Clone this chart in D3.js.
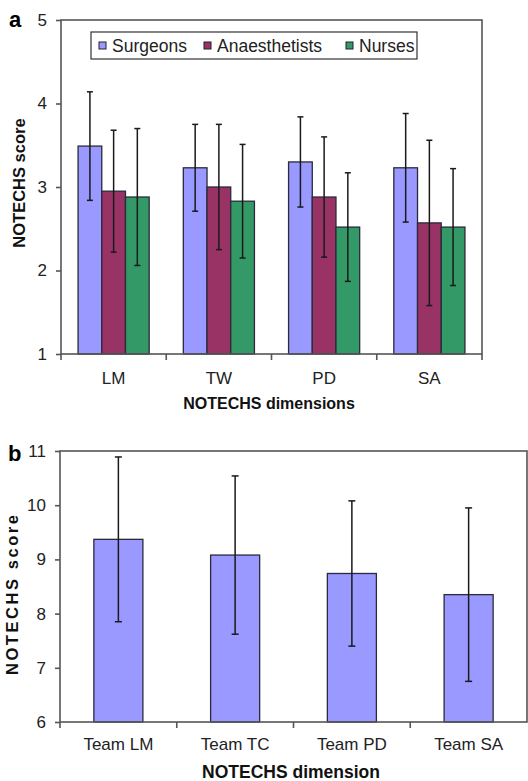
<!DOCTYPE html>
<html>
<head>
<meta charset="utf-8">
<script src="https://cdn.jsdelivr.net/npm/d3@7"></script>
<style>
  body{ margin: 0; background: #fff; }
  text{ font-family: "Liberation Sans", Arial, sans-serif; }
</style>
</head>
<body>
<svg id="chart" width="528" height="781"></svg>
<script>
// panel a
var dimensions = [ "LM", "TW", "PD", "SA" ];
var groups = [ "Surgeons", "Anaesthetists", "Nurses" ];
var group_colors = [ "#9999ff", "#993366", "#339966" ];
var surgeons_mean = [ 3.49, 3.23, 3.30, 3.23 ];
var surgeons_err = [ 0.65, 0.52, 0.54, 0.65 ];
var anaesthetists_mean = [ 2.95, 3.00, 2.88, 2.57 ];
var anaesthetists_err = [ 0.73, 0.75, 0.72, 0.99 ];
var nurses_mean = [ 2.88, 2.83, 2.52, 2.52 ];
var nurses_err = [ 0.82, 0.68, 0.65, 0.70 ];
var ticks_a = [ 1, 2, 3, 4, 5 ];

// panel b
var team_dimensions = [ "Team LM", "Team TC", "Team PD", "Team SA" ];
var team_mean = [ 9.37, 9.08, 8.74, 8.35 ];
var team_err = [ 1.52, 1.46, 1.34, 1.60 ];
var ticks_b = [ 6, 7, 8, 9, 10, 11 ];

var svg = d3.select( "#chart" );

var AXIS_COLOR = "#555";
var TEXT_COLOR = "#222";

function drawFrame( g, x0, x1, y, ticks ){
  var y_top = y.range()[ 1 ];
  var y_bot = y.range()[ 0 ];

  g.append( "rect" )
    .attr( "x", x0 )
    .attr( "y", y_top )
    .attr( "width", x1 - x0 )
    .attr( "height", y_bot - y_top )
    .style( "fill", "none" )
    .style( "stroke", AXIS_COLOR )
    .style( "stroke-width", "1.6px" );

  var y_axis = d3.axisLeft( y ).tickValues( ticks ).tickSize( 5 ).tickPadding( 9 ).tickFormat( d3.format( "d" ) );
  var ya = g.append( "g" ).attr( "transform", "translate(" + x0 + ",0)" ).call( y_axis );
  ya.select( ".domain" ).remove();
  ya.selectAll( "line" ).style( "stroke", AXIS_COLOR ).style( "stroke-width", "1.6px" );
  ya.selectAll( "text" )
    .style( "font-family", "\"Liberation Sans\", Arial, sans-serif" )
    .style( "font-size", "17px" )
    .style( "fill", TEXT_COLOR );

  return ya;
}

function drawErrors( g, data, xf, y, cap ){
  var eg = g.append( "g" )
    .selectAll( "g" )
    .data( data )
    .enter()
    .append( "g" );

  eg.append( "line" )
    .attr( "x1", xf ).attr( "x2", xf )
    .attr( "y1", function( d ){ return y( d.mean + d.err ); } )
    .attr( "y2", function( d ){ return y( d.mean - d.err ); } );
  eg.append( "line" )
    .attr( "x1", function( d ){ return xf( d ) - cap; } )
    .attr( "x2", function( d ){ return xf( d ) + cap; } )
    .attr( "y1", function( d ){ return y( d.mean + d.err ); } )
    .attr( "y2", function( d ){ return y( d.mean + d.err ); } );
  eg.append( "line" )
    .attr( "x1", function( d ){ return xf( d ) - cap; } )
    .attr( "x2", function( d ){ return xf( d ) + cap; } )
    .attr( "y1", function( d ){ return y( d.mean - d.err ); } )
    .attr( "y2", function( d ){ return y( d.mean - d.err ); } );
  eg.selectAll( "line" )
    .style( "stroke", "#1a1a1a" )
    .style( "stroke-width", "1.5px" );
}

// ---------- panel a ----------
var a_left = 61, a_right = 482, a_top = 20, a_bottom = 354;

var xa = d3.scaleBand()
  .domain( dimensions )
  .range( [ a_left, a_right ] )
  .paddingInner( 0 )
  .paddingOuter( 0 );

var xa_inner = d3.scaleBand()
  .domain( groups )
  .range( [ 0, xa.bandwidth() ] )
  .paddingOuter( 0.72 )
  .paddingInner( 0 );

var ya = d3.scaleLinear().domain( [ 1, 5 ] ).range( [ a_bottom, a_top ] );

var ga = svg.append( "g" );

var means_a = [ surgeons_mean, anaesthetists_mean, nurses_mean ];
var errs_a = [ surgeons_err, anaesthetists_err, nurses_err ];

var bars_a = [];
groups.forEach( function( grp, gi ){
  dimensions.forEach( function( dim, di ){
    bars_a.push( { dim: dim, grp: grp, gi: gi, mean: means_a[ gi ][ di ], err: errs_a[ gi ][ di ] } );
  } );
} );

ga.selectAll( ".bar-a" )
  .data( bars_a )
  .enter()
  .append( "rect" )
  .classed( "bar-a", true )
  .attr( "x", function( d ){ return xa( d.dim ) + xa_inner( d.grp ); } )
  .attr( "y", function( d ){ return ya( d.mean ); } )
  .attr( "width", xa_inner.bandwidth() )
  .attr( "height", function( d ){ return ya( 1 ) - ya( d.mean ); } )
  .style( "fill", function( d ){ return group_colors[ d.gi ]; } )
  .style( "stroke", "#2a2a3a" )
  .style( "stroke-width", "1.3px" );

drawErrors( ga, bars_a, function( d ){ return xa( d.dim ) + xa_inner( d.grp ) + xa_inner.bandwidth() / 2; }, ya, 3 );

drawFrame( ga, a_left, a_right, ya, ticks_a );

// category ticks and labels
ga.selectAll( ".xtick-a" )
  .data( dimensions.concat( [ "end" ] ) )
  .enter()
  .append( "line" )
  .attr( "x1", function( d, i ){ return a_left + xa.bandwidth() * i; } )
  .attr( "x2", function( d, i ){ return a_left + xa.bandwidth() * i; } )
  .attr( "y1", a_bottom )
  .attr( "y2", a_bottom + 6 )
  .style( "stroke", AXIS_COLOR )
  .style( "stroke-width", "1.6px" );

ga.selectAll( ".xlab-a" )
  .data( dimensions )
  .enter()
  .append( "text" )
  .attr( "x", function( d ){ return xa( d ) + xa.bandwidth() / 2; } )
  .attr( "y", 384 )
  .attr( "text-anchor", "middle" )
  .style( "font-size", "17px" )
  .style( "fill", TEXT_COLOR )
  .text( function( d ){ return d; } );

ga.append( "text" )
  .attr( "x", 269 )
  .attr( "y", 409 )
  .attr( "text-anchor", "middle" )
  .style( "font-size", "16px" )
  .style( "font-weight", "bold" )
  .style( "fill", "#111" )
  .text( "NOTECHS dimensions" );

ga.append( "text" )
  .attr( "transform", "translate(25,183) rotate(-90)" )
  .attr( "text-anchor", "middle" )
  .style( "font-size", "16.5px" )
  .style( "font-weight", "bold" )
  .style( "fill", "#111" )
  .text( "NOTECHS score" );

ga.append( "text" )
  .attr( "x", 9 )
  .attr( "y", 27 )
  .style( "font-size", "22px" )
  .style( "font-weight", "bold" )
  .style( "fill", "#000" )
  .text( "a" );

// legend
var legend = ga.append( "g" );
legend.append( "rect" )
  .attr( "x", 91 )
  .attr( "y", 32 )
  .attr( "width", 326 )
  .attr( "height", 27 )
  .style( "fill", "#fff" )
  .style( "stroke", "#333" )
  .style( "stroke-width", "1.2px" );

var legend_x = [ 99, 204, 346 ];
groups.forEach( function( grp, gi ){
  legend.append( "rect" )
    .attr( "x", legend_x[ gi ] )
    .attr( "y", 42 )
    .attr( "width", 7 )
    .attr( "height", 7 )
    .style( "fill", group_colors[ gi ] )
    .style( "stroke", "#222" )
    .style( "stroke-width", "1px" );
  legend.append( "text" )
    .attr( "x", legend_x[ gi ] + 13 )
    .attr( "y", 52 )
    .style( "font-size", "17.5px" )
    .style( "fill", TEXT_COLOR )
    .text( grp );
} );

// ---------- panel b ----------
var b_left = 60, b_right = 527, b_top = 451, b_bottom = 722;

var xb = d3.scaleBand()
  .domain( team_dimensions )
  .range( [ b_left, b_right ] )
  .paddingInner( 0.58 )
  .paddingOuter( 0.29 );

var xb_band = d3.scaleBand()
  .domain( team_dimensions )
  .range( [ b_left, b_right ] );

var yb = d3.scaleLinear().domain( [ 6, 11 ] ).range( [ b_bottom, b_top ] );

var gb = svg.append( "g" );

var bars_b = team_dimensions.map( function( dim, i ){
  return { dim: dim, mean: team_mean[ i ], err: team_err[ i ] };
} );

gb.selectAll( ".bar-b" )
  .data( bars_b )
  .enter()
  .append( "rect" )
  .attr( "x", function( d ){ return xb( d.dim ); } )
  .attr( "y", function( d ){ return yb( d.mean ); } )
  .attr( "width", xb.bandwidth() )
  .attr( "height", function( d ){ return yb( 6 ) - yb( d.mean ); } )
  .style( "fill", group_colors[ 0 ] )
  .style( "stroke", "#2a2a3a" )
  .style( "stroke-width", "1.3px" );

drawErrors( gb, bars_b, function( d ){ return xb( d.dim ) + xb.bandwidth() / 2; }, yb, 3.5 );

drawFrame( gb, b_left, b_right, yb, ticks_b );

gb.selectAll( ".xtick-b" )
  .data( team_dimensions )
  .enter()
  .append( "line" )
  .attr( "x1", function( d ){ return xb_band( d ); } )
  .attr( "x2", function( d ){ return xb_band( d ); } )
  .attr( "y1", b_bottom )
  .attr( "y2", b_bottom + 6 )
  .style( "stroke", AXIS_COLOR )
  .style( "stroke-width", "1.6px" );

gb.selectAll( ".xlab-b" )
  .data( team_dimensions )
  .enter()
  .append( "text" )
  .attr( "x", function( d ){ return xb( d ) + xb.bandwidth() / 2; } )
  .attr( "y", 750 )
  .attr( "text-anchor", "middle" )
  .style( "font-size", "17px" )
  .style( "fill", TEXT_COLOR )
  .text( function( d ){ return d; } );

gb.append( "text" )
  .attr( "x", 291 )
  .attr( "y", 778 )
  .attr( "text-anchor", "middle" )
  .style( "font-size", "17.5px" )
  .style( "font-weight", "bold" )
  .style( "fill", "#111" )
  .text( "NOTECHS dimension" );

gb.append( "text" )
  .attr( "transform", "translate(18,595) rotate(-90)" )
  .attr( "text-anchor", "middle" )
  .attr( "textLength", 160 )
  .attr( "lengthAdjust", "spacing" )
  .style( "font-size", "16.5px" )
  .style( "font-weight", "bold" )
  .style( "fill", "#111" )
  .text( "NOTECHS score" );

gb.append( "text" )
  .attr( "x", 8 )
  .attr( "y", 461 )
  .style( "font-size", "22px" )
  .style( "font-weight", "bold" )
  .style( "fill", "#000" )
  .text( "b" );
</script>
</body>
</html>
